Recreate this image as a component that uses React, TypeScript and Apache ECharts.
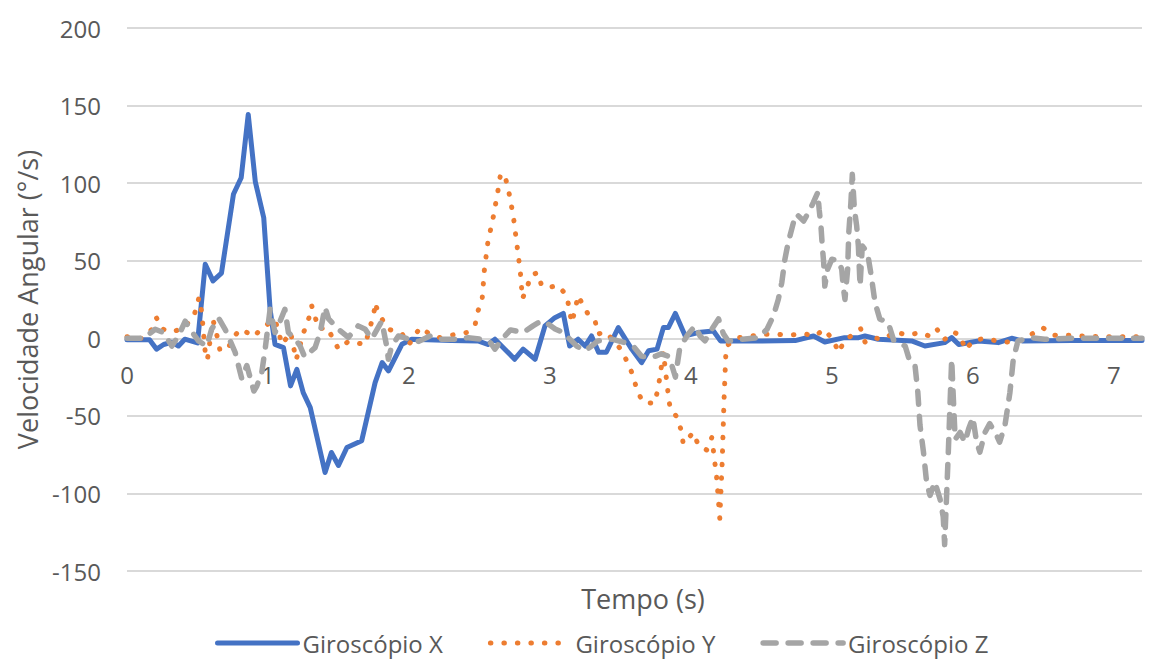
import React, { useEffect, useRef } from "react";
import * as echarts from "echarts";

const seriesNames = ["Giroscópio X", "Giroscópio Y", "Giroscópio Z"];
const yTicks = { min: -150, max: 200, step: 50 };
const xRange = { min: 0, max: 7.2, step: 1 };

const gyroX: [number, number][] = [
  [0, -1], [0.16, -1], [0.21, -7], [0.26, -4], [0.32, -2.5], [0.365, -5], [0.41, -0.6], [0.5, -3],
  [0.555, 47.7], [0.61, 37], [0.67, 42], [0.755, 92.8], [0.81, 103.5], [0.86, 144.3], [0.91, 101],
  [0.97, 77.7], [1.015, 18.7], [1.05, -3.9], [1.11, -6], [1.16, -30.7], [1.205, -20], [1.25, -35],
  [1.3, -44.7], [1.405, -86.5], [1.45, -73.6], [1.5, -82], [1.56, -70.4], [1.665, -66], [1.76, -28.6],
  [1.81, -15.7], [1.855, -21], [1.95, -3.9], [2.02, -0.6], [2.3, -1.5], [2.49, -1.7], [2.56, -4],
  [2.61, -0.6], [2.68, -7], [2.75, -13.5], [2.81, -7], [2.895, -13.5], [2.965, 8], [3.035, 13.3],
  [3.095, 16], [3.14, -5], [3.2, -0.6], [3.25, -5], [3.295, 1.5], [3.345, -9], [3.4, -9], [3.485, 6.9],
  [3.58, -7], [3.65, -15.7], [3.7, -8], [3.76, -7], [3.805, 6.9], [3.84, 6.9], [3.89, 16], [3.96, 1.5],
  [4.05, 3.7], [4.16, 4.7], [4.21, -1.7], [4.5, -1.7], [4.74, -1.5], [4.87, 1.5], [4.95, -2.4],
  [5.09, 0.4], [5.19, 0.4], [5.235, 1.5], [5.33, -0.6], [5.566, -1.7], [5.66, -5], [5.8, -2.8],
  [5.85, 0.4], [5.9, -4], [6.04, -1.7], [6.18, -2.8], [6.275, 0], [6.35, -1.7], [6.7, -1.5], [7.2, -1.5],
];

const gyroY: [number, number][] = [
  [0, 1], [0.1, 0], [0.18, 6], [0.21, 13], [0.25, 6], [0.32, 4], [0.41, 7], [0.48, 16], [0.51, 26],
  [0.53, 17], [0.545, 1], [0.555, -9], [0.57, -14], [0.61, 12], [0.64, 1], [0.66, -8], [0.72, -6],
  [0.755, 1], [0.81, 6], [0.9, 1], [0.96, 7], [1.05, 12], [1.1, -4], [1.16, 4], [1.2, -14], [1.25, 3],
  [1.29, 13], [1.31, 21], [1.33, 15], [1.36, 6], [1.42, 7], [1.5, -7], [1.57, -2], [1.69, -4], [1.72, 6],
  [1.75, 15], [1.76, 23], [1.78, 17], [1.85, 6], [1.95, 3], [2.0, -4], [2.08, 7], [2.15, 2.6], [2.22, 0.4],
  [2.3, 2], [2.41, 3.7], [2.47, 9], [2.49, 17.6], [2.52, 26], [2.535, 44], [2.56, 62], [2.6, 79],
  [2.635, 97], [2.65, 106], [2.68, 105], [2.705, 96], [2.74, 79], [2.765, 61], [2.79, 43], [2.805, 25.6],
  [2.835, 32], [2.866, 40.6], [2.913, 42.3], [2.94, 34.2], [2.977, 32.6], [3.06, 34], [3.12, 27.3],
  [3.155, 10], [3.18, 19], [3.2, 27.6], [3.225, 23], [3.268, 16], [3.32, 11.6], [3.34, 2.6], [3.39, 4.3],
  [3.45, -1.2], [3.51, -8], [3.55, -15.5], [3.59, -24], [3.616, -33], [3.658, -41], [3.74, -42],
  [3.765, -33.5], [3.78, -25], [3.805, -9], [3.817, -18.8], [3.84, -36.7], [3.853, -45.3], [3.9, -50.6],
  [3.93, -59], [3.946, -68], [3.977, -64.7], [4.018, -60.8], [4.053, -69], [4.112, -72], [4.148, -64],
  [4.16, -72.6], [4.183, -90], [4.205, -116], [4.222, -80], [4.235, -40], [4.25, -5], [4.337, 0.4],
  [4.43, 1.5], [4.52, 2.6], [4.61, 2.6], [4.7, 2], [4.8, 3], [4.88, 1.5], [4.946, 5.8], [5.01, -1.3],
  [5.05, -9.2], [5.086, -1.7], [5.152, 2.6], [5.204, 6.2], [5.235, -2.4], [5.287, 0.4], [5.365, -0.6],
  [5.448, 4.1], [5.538, 2], [5.625, 3.7], [5.69, 1.5], [5.743, 6.2], [5.795, -1.1], [5.861, 4.1],
  [5.916, 1.5], [5.944, -7.5], [6.01, -1.1], [6.086, -0.2], [6.169, -1.7], [6.24, -2.4], [6.334, -1.7],
  [6.417, 2.6], [6.495, 6.9], [6.57, 2], [6.665, 2], [6.75, 1.5], [6.9, 1], [7.05, 1], [7.2, 1],
];

const gyroZ: [number, number][] = [
  [0, 0], [0.117, 0], [0.2, 5.8], [0.26, 3.7], [0.318, -5], [0.365, 1.5], [0.413, 11], [0.448, 5.8],
  [0.507, -1.7], [0.566, -5], [0.6, 5.8], [0.65, 13], [0.696, 5.8], [0.767, -9], [0.814, -26],
  [0.85, -17.6], [0.9, -34], [0.92, -31], [0.956, -22], [0.98, -7], [1.015, 18.7], [1.05, 3.7],
  [1.086, 11], [1.12, 18.7], [1.145, 3.7], [1.193, -0.4], [1.228, -5], [1.26, -12], [1.334, -6],
  [1.37, 3.7], [1.405, 20], [1.43, 12.5], [1.5, 5.8], [1.57, 0.6], [1.64, 8], [1.69, 5.8], [1.736, -0.4],
  [1.807, 11], [1.842, -5], [1.854, -13.5], [1.878, -5], [1.925, 1.5], [1.996, -0.4], [2.07, -2],
  [2.15, 1.5], [2.23, -0.6], [2.33, -0.6], [2.42, 0.4], [2.52, -0.6], [2.58, -3], [2.61, -7],
  [2.66, -0.6], [2.72, 5.4], [2.81, 3.7], [2.88, 8], [2.94, 11.2], [2.99, 9], [3.037, 6], [3.08, 4.3],
  [3.13, 0.4], [3.19, -5], [3.25, -8], [3.296, -5], [3.34, -1.7], [3.44, -0.6], [3.53, -2.8], [3.6, -6],
  [3.65, -11.5], [3.7, -12.5], [3.75, -11.5], [3.79, -10], [3.84, -11.5], [3.86, -16], [3.89, -25],
  [3.92, -7], [3.95, -1.7], [3.98, 2.6], [4.03, 8], [4.065, 1.5], [4.1, -1.7], [4.15, 6], [4.196, 12.5],
  [4.23, 3], [4.265, -1.7], [4.36, -0.6], [4.48, 0.4], [4.54, 5.8], [4.585, 14.4], [4.62, 25],
  [4.645, 36], [4.667, 51], [4.69, 61.6], [4.727, 74.4], [4.75, 80], [4.8, 75.6], [4.833, 81],
  [4.868, 87.4], [4.9, 94], [4.91, 83], [4.923, 72], [4.932, 59.5], [4.942, 48.8], [4.95, 33.7],
  [4.97, 44.5], [5.0, 51], [5.046, 50], [5.07, 44.5], [5.08, 33.7], [5.093, 25], [5.112, 44.5],
  [5.12, 68], [5.135, 87.4], [5.145, 105.7], [5.16, 83], [5.176, 72.4], [5.188, 59.5], [5.2, 33.7],
  [5.216, 59.5], [5.235, 57.3], [5.26, 51], [5.28, 40], [5.306, 23], [5.34, 12.5], [5.4, 10],
  [5.44, -1.7], [5.52, -5], [5.555, -15.5], [5.59, -17.6], [5.61, -35], [5.625, -56], [5.65, -73.4],
  [5.672, -92.7], [5.696, -101.3], [5.73, -92.7], [5.767, -103.5], [5.79, -115], [5.8, -133],
  [5.815, -99], [5.826, -73.4], [5.838, -43], [5.85, -13.5], [5.86, -35], [5.875, -65], [5.91, -60.7],
  [5.944, -67], [5.97, -58.5], [6.0, -51], [6.027, -67], [6.05, -73.4], [6.086, -60.7], [6.12, -55],
  [6.169, -62.6], [6.19, -67], [6.228, -56], [6.263, -35], [6.287, -13.5], [6.32, -1.7], [6.417, 0.4],
  [6.51, -0.6], [6.7, 0], [6.9, 0], [7.2, 0],
];

const FONT = "'Open Sans', sans-serif";
const TXT = "#595959";

const GRID = { left: 127, right: 7, top: 28, bottom: 88 };
const CH = 659;

export default function App() {
  const ref = useRef<HTMLDivElement>(null);
  useEffect(() => {
    if (!ref.current) return;
    const chart = echarts.init(ref.current, undefined, { renderer: "svg" });
    const gridH = CH - GRID.top - GRID.bottom;
    // move the x axis (labels) up to where y = 0 sits in the value range
    const zeroOffset = -gridH * (0 - yTicks.min) / (yTicks.max - yTicks.min);
    chart.setOption({
      animation: false,
      grid: GRID,
      xAxis: {
        type: "value",
        min: xRange.min,
        max: xRange.max,
        interval: xRange.step,
        position: "bottom",
        offset: zeroOffset,
        axisLine: { show: true, onZero: false, lineStyle: { color: "#d9d9d9", width: 2 } },
        axisTick: { show: false },
        splitLine: { show: false },
        axisLabel: { showMaxLabel: false, margin: 24, fontSize: 24, color: TXT, fontFamily: FONT },
      },
      yAxis: {
        type: "value",
        min: yTicks.min,
        max: yTicks.max,
        interval: yTicks.step,
        name: "Velocidade Angular (°/s)",
        nameLocation: "middle",
        nameGap: 86,
        nameTextStyle: { fontSize: 27, color: TXT, fontFamily: FONT },
        axisLine: { show: false, onZero: false },
        axisTick: { show: false },
        splitLine: { lineStyle: { color: "#d9d9d9", width: 2 } },
        axisLabel: { margin: 26, fontSize: 24, color: TXT, fontFamily: FONT },
      },
      legend: {
        left: 210,
        top: 626,
        itemWidth: 80,
        itemHeight: 14,
        itemGap: 45,
        textStyle: { fontSize: 24, color: TXT, fontFamily: FONT },
        itemStyle: { opacity: 0 },
        lineStyle: { width: "inherit", type: "inherit", cap: "inherit" },
        data: seriesNames,
      },
      graphic: [
        {
          type: "text",
          x: 643,
          y: 598,
          style: { text: "Tempo (s)", font: `27px ${FONT}`, fill: TXT, textAlign: "center", textVerticalAlign: "middle" },
        },
      ],
      series: [
        {
          name: seriesNames[0],
          type: "line",
          data: gyroX,
          symbol: "none",
          lineStyle: { color: "#4472C4", width: 5, cap: "round", join: "round" },
          itemStyle: { color: "#4472C4" },
        },
        {
          name: seriesNames[1],
          type: "line",
          data: gyroY,
          symbol: "none",
          lineStyle: { color: "#ED7D31", width: 5, type: [0.5, 13], cap: "round", join: "round" },
          itemStyle: { color: "#ED7D31" },
        },
        {
          name: seriesNames[2],
          type: "line",
          data: gyroZ,
          symbol: "none",
          lineStyle: { color: "#A5A5A5", width: 5.5, type: [13, 12], cap: "round", join: "round" },
          itemStyle: { color: "#A5A5A5" },
        },
      ],
    });
    return () => chart.dispose();
  }, []);
  return <div ref={ref} style={{ width: 1149, height: 659, position: "absolute", left: 0, top: 0 }} />;
}
